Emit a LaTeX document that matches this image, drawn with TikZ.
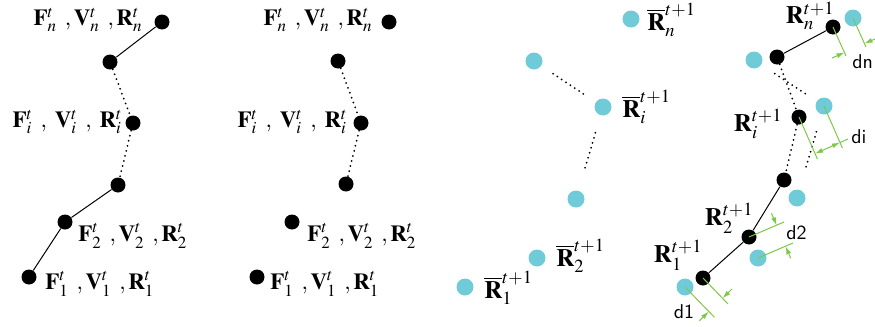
\documentclass[tikz,border=0pt]{standalone}
\usepackage{mathptmx}
\usetikzlibrary{positioning}
\usetikzlibrary{arrows.meta}
\usetikzlibrary{calc}

\definecolor{cian}{RGB}{112,203,216}
\definecolor{verde}{RGB}{125,200,70}

\begin{document}
\begin{tikzpicture}[
        x=0.5pt, y=-0.5pt,
        punto/.style={circle, fill=black, inner sep=0pt, minimum size=7.5pt},
        puntoc/.style={circle, fill=cian, inner sep=0pt, minimum size=8.5pt},
        enlace/.style={line width=0.5pt},
        puntos/.style={line width=1pt, line cap=round, dash pattern=on 0pt off 2.6pt},
        etiq/.style={inner sep=1pt, font=\fontsize{11.5}{13}\selectfont},
        etiqg/.style={inner sep=1pt, font=\fontsize{12.5}{14}\selectfont},
        cota/.style={verde, line width=0.5pt},
        flecha/.style={verde, line width=0.5pt, -{Latex[length=4pt,width=2.5pt]}},
        etiqd/.style={inner sep=0pt, font=\sffamily\fontsize{10}{11}\selectfont}
    ]

        \useasboundingbox (0,0) rectangle (875,327);

        % Cadena 1
        \node[punto] (a1) at (29,277) {};
        \node[punto] (a2) at (65,222) {};
        \node[punto] (ak) at (118,185) {};
        \node[punto] (ai) at (133,123) {};
        \node[punto] (am) at (110,62) {};
        \node[punto] (an) at (162,22) {};

        \draw[enlace] (an) -- (am);
        \draw[puntos] (am) -- (ai);
        \draw[puntos] (ai) -- (ak);
        \draw[enlace] (ak) -- (a2);
        \draw[enlace] (a2) -- (a1);

        \node[etiq, anchor=east] (lan) at (145,20) {$\mathbf{F}_n^t\;\,,\mathbf{V}_n^t\;\,,\mathbf{R}_n^t$};
        \node[etiq, anchor=east] (lai) at (125,122) {$\mathbf{F}_i^t\;\,,\;\mathbf{V}_i^t\;\,,\;\mathbf{R}_i^t$};
        \node[etiq, anchor=west] (la2) at (76,236) {$\mathbf{F}_2^t\;\,,\mathbf{V}_2^t\;\,,\mathbf{R}_2^t$};
        \node[etiq, anchor=west] (la1) at (43,284) {$\mathbf{F}_1^t\;\,,\mathbf{V}_1^t\;\,,\mathbf{R}_1^t$};

        % Cadena 2
        \node[punto] (b1) at (257,277) {};
        \node[punto] (b2) at (292,222) {};
        \node[punto] (bk) at (346,184) {};
        \node[punto] (bi) at (361,123) {};
        \node[punto] (bm) at (338,61) {};
        \node[punto] (bn) at (389,22) {};

        \draw[puntos] (bm) -- (bi);
        \draw[puntos] (bi) -- (bk);

        \node[etiq, anchor=east] (lbn) at (375,20) {$\mathbf{F}_n^t\;\,,\mathbf{V}_n^t\;\,,\mathbf{R}_n^t$};
        \node[etiq, anchor=east] (lbi) at (350,122) {$\mathbf{F}_i^t\;\,,\;\mathbf{V}_i^t\;\,,\;\mathbf{R}_i^t$};
        \node[etiq, anchor=west] (lb2) at (305,236) {$\mathbf{F}_2^t\;\,,\mathbf{V}_2^t\;\,,\mathbf{R}_2^t$};
        \node[etiq, anchor=west] (lb1) at (268,284) {$\mathbf{F}_1^t\;\,,\mathbf{V}_1^t\;\,,\mathbf{R}_1^t$};

        % Cadena 3
        \node[puntoc] (c1) at (465,287) {};
        \node[puntoc] (c2) at (537,258) {};
        \node[puntoc] (ck) at (576,199) {};
        \node[puntoc] (ci) at (603,107) {};
        \node[puntoc] (cm) at (534,61) {};
        \node[puntoc] (cn) at (631,19) {};

        \draw[puntos, shorten <=7pt, shorten >=7pt] (cm) -- (ci);
        \draw[puntos, shorten <=9pt, shorten >=10pt] (ci) -- (ck);

        \node[etiqg, anchor=west] (lcn) at (645,20) {$\overline{\mathbf{R}}_n^{t+1}$};
        \node[etiqg, anchor=west] (lci) at (620,107) {$\overline{\mathbf{R}}_i^{t+1}$};
        \node[etiqg, anchor=west] (lc2) at (554,256) {$\overline{\mathbf{R}}_2^{t+1}$};
        \node[etiqg, anchor=west] (lc1) at (482,288) {$\overline{\mathbf{R}}_1^{t+1}$};

        % Cadena 4
        \node[puntoc] (q1) at (685,287) {};
        \node[puntoc] (q2) at (758,258) {};
        \node[puntoc] (qk) at (797,198) {};
        \node[puntoc] (qi) at (824,106) {};
        \node[puntoc] (qm) at (754,60) {};
        \node[puntoc] (qn) at (853,18) {};

        \draw[puntos, shorten <=8pt, shorten >=6pt] (qm) -- (qi);
        \draw[puntos, shorten <=9pt, shorten >=10pt] (qi) -- (qk);

        \node[punto] (p1) at (703,278) {};
        \node[punto] (p2) at (749,237) {};
        \node[punto] (pk) at (784,180) {};
        \node[punto] (pi) at (799,117) {};
        \node[punto] (pm) at (777,57) {};
        \node[punto] (pn) at (833,27) {};

        \draw[enlace] (pn) -- (pm);
        \draw[puntos] (pm) -- (pi);
        \draw[puntos] (pi) -- (pk);
        \draw[enlace] (pk) -- (p2);
        \draw[enlace] (p2) -- (p1);

        \node[etiqg, anchor=east] (lpn) at (837,16) {$\mathbf{R}_n^{t+1}$};
        \node[etiqg, anchor=east] (lpi) at (785,124) {$\mathbf{R}_i^{t+1}$};
        \node[etiqg, anchor=east] (lp2) at (756,218) {$\mathbf{R}_2^{t+1}$};
        \node[etiqg, anchor=east] (lp1) at (705,255) {$\mathbf{R}_1^{t+1}$};

        % Cotas
        % dn
        \draw[cota] (pn.center) -- ++(13,29);
        \draw[cota] (qn.center) -- ++(13,29);
        \draw[flecha] ($(pn)+(-1,31)$) -- ($(pn)+(11.5,25.5)$);
        \draw[flecha] ($(qn)+(22,21)$) -- ($(qn)+(11.5,25.5)$);
        \node[etiqd, anchor=west] (dn) at (852,62) {dn};

        % di
        \draw[cota] (pi.center) -- ++(18.4,42);
        \draw[cota] (qi.center) -- ++(18.4,42);
        \draw[cota, {Latex[length=4pt,width=2.5pt]}-{Latex[length=4pt,width=2.5pt]}] ($(pi)+(16,36.6)$) -- ($(qi)+(16,36.6)$);
        \draw[cota] ($(qi)+(16,36.6)$) -- ++(8,-3.6);
        \node[etiqd, anchor=west] (di) at (851,137) {di};

        % d2
        \draw[cota] (p2.center) -- ++(35,-15);
        \draw[cota] (q2.center) -- ++(35,-15);
        \draw[flecha] ($(p2)+(22.5,-23.7)$) -- ($(p2)+(27.6,-11.7)$);
        \draw[flecha] ($(q2)+(32.7,0.3)$) -- ($(q2)+(27.6,-11.7)$);
        \node[etiqd, anchor=west] (d2) at (786,233) {d2};

        % d1
        \draw[cota] (p1.center) -- ++(25,26);
        \draw[cota] (q1.center) -- ++(29.4,30.2);
        \draw[flecha] ($(p1)+(29,11)$) -- ($(p1)+(19.6,20.2)$);
        \draw[flecha] ($(q1)+(14.4,33.7)$) -- ($(q1)+(23.8,24.6)$);
        \node[etiqd] (d1) at (684,312) {d1};

    \end{tikzpicture}
\end{document}
